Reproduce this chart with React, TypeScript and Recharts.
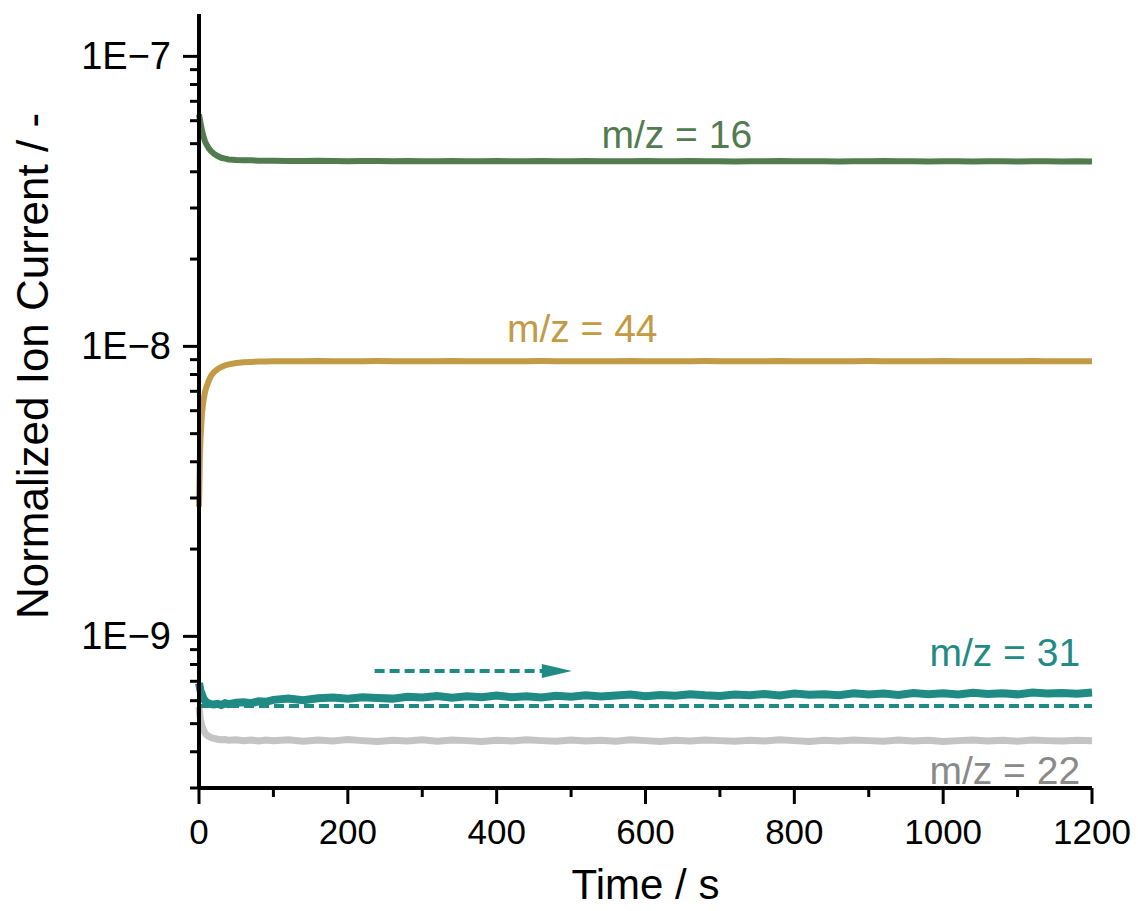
import { Line, LineChart, ReferenceDot, ReferenceLine, XAxis, YAxis, Label } from "recharts";

const FONT = "'Liberation Sans', Arial, sans-serif";
const GREEN = "#527b4f";
const GOLD = "#c39a45";
const TEAL = "#1f8b84";
const GREY_LINE = "#c4c4c4";
const GREY_TEXT = "#8a8a8a";

// time, s
const TIME = [
  0, 1, 2, 4, 6, 8, 10, 13, 16, 20, 25, 30, 35, 40, 50, 60, 70, 80, 90,
  100, 120, 140, 160, 180, 200, 220, 240,
  260, 280, 300, 320, 340, 360, 380, 400,
  420, 440, 460, 480, 500, 520, 540, 560,
  580, 600, 620, 640, 660, 680, 700, 720,
  740, 760, 780, 800, 820, 840, 860, 880,
  900, 920, 940, 960, 980, 1000, 1020, 1040,
  1060, 1080, 1100, 1120, 1140, 1160, 1180, 1200,
];

// m/z = 16, in 1E-8
const MZ16 = [
  6.3, 6.1, 5.9, 5.55, 5.3, 5.1, 4.97, 4.82, 4.72, 4.62, 4.53, 4.47, 4.44, 4.41, 4.39, 4.38, 4.38, 4.37, 4.37,
  4.37, 4.36, 4.36, 4.37, 4.36, 4.35, 4.36, 4.36,
  4.35, 4.36, 4.35, 4.35, 4.36, 4.35, 4.35, 4.36,
  4.35, 4.35, 4.36, 4.35, 4.35, 4.36, 4.35, 4.35,
  4.35, 4.36, 4.35, 4.35, 4.36, 4.35, 4.35, 4.34,
  4.35, 4.35, 4.36, 4.35, 4.35, 4.35, 4.34, 4.35,
  4.35, 4.36, 4.35, 4.35, 4.34, 4.35, 4.35, 4.34,
  4.35, 4.35, 4.34, 4.35, 4.35, 4.34, 4.35, 4.34,
];

// m/z = 44, in 1E-9
const MZ44 = [
  2.8, 4.0, 4.8, 5.9, 6.5, 6.95, 7.25, 7.6, 7.9, 8.15, 8.35, 8.5, 8.6, 8.67, 8.76, 8.81, 8.84, 8.86, 8.87,
  8.88, 8.89, 8.88, 8.9, 8.89, 8.88, 8.89, 8.9,
  8.89, 8.88, 8.89, 8.89, 8.9, 8.88, 8.89, 8.89,
  8.88, 8.89, 8.9, 8.89, 8.88, 8.89, 8.89, 8.88,
  8.9, 8.89, 8.89, 8.88, 8.89, 8.9, 8.89, 8.88,
  8.89, 8.89, 8.9, 8.88, 8.89, 8.89, 8.88, 8.89,
  8.9, 8.89, 8.88, 8.89, 8.89, 8.9, 8.88, 8.89,
  8.89, 8.88, 8.89, 8.9, 8.88, 8.89, 8.89, 8.88,
];

// m/z = 31, in 1E-10
const MZ31 = [
  6.9, 6.7, 6.5, 6.3, 6.1, 6.0, 5.92, 5.87, 5.84, 5.82, 5.85, 5.8, 5.88, 5.84, 5.9, 5.93, 5.88, 5.97, 5.95,
  6.04, 6.1, 6.02, 6.12, 6.15, 6.09, 6.17, 6.13,
  6.1, 6.19, 6.15, 6.23, 6.14, 6.21, 6.17, 6.25,
  6.17, 6.22, 6.15, 6.24, 6.19, 6.27, 6.2, 6.25,
  6.3, 6.22, 6.28, 6.24, 6.31, 6.26, 6.23, 6.3,
  6.27, 6.33, 6.26, 6.35, 6.29, 6.32, 6.27, 6.36,
  6.3, 6.35, 6.28, 6.38, 6.32, 6.36, 6.3, 6.39,
  6.33, 6.37, 6.31, 6.4, 6.35, 6.38, 6.34, 6.4,
];

// m/z = 22, in 1E-10
const MZ22 = [
  5.7, 5.4, 5.15, 4.9, 4.75, 4.65, 4.58, 4.52, 4.48, 4.45, 4.42, 4.4, 4.41, 4.38, 4.4, 4.37, 4.39, 4.36, 4.39,
  4.37, 4.4, 4.35, 4.39, 4.36, 4.41, 4.37, 4.34,
  4.38, 4.36, 4.4, 4.35, 4.39, 4.37, 4.34, 4.38,
  4.36, 4.4, 4.37, 4.35, 4.39, 4.36, 4.38, 4.35,
  4.4, 4.37, 4.34, 4.38, 4.36, 4.39, 4.37, 4.35,
  4.38, 4.36, 4.4, 4.37, 4.34, 4.38, 4.36, 4.39,
  4.37, 4.35, 4.39, 4.36, 4.38, 4.34, 4.37, 4.39,
  4.36, 4.38, 4.35, 4.39, 4.37, 4.36, 4.38, 4.37,
];

// dashed baseline of m/z = 31
const BASELINE_31 = 5.75e-10;

const X_TICKS = [0, 100, 200, 300, 400, 500, 600, 700, 800, 900, 1000, 1100, 1200];
const Y_TICKS = [
  3e-10, 4e-10, 5e-10, 6e-10, 7e-10, 8e-10, 9e-10,
  1e-9, 2e-9, 3e-9, 4e-9, 5e-9, 6e-9, 7e-9, 8e-9, 9e-9,
  1e-8, 2e-8, 3e-8, 4e-8, 5e-8, 6e-8, 7e-8, 8e-8, 9e-8,
  1e-7,
];

const data = TIME.map((t, i) => ({
  t,
  m16: MZ16[i] * 1e-8,
  m44: MZ44[i] * 1e-9,
  m31: MZ31[i] * 1e-10,
  m22: MZ22[i] * 1e-10,
}));

const isDecade = (v: number) => {
  const l = Math.log10(v);
  return Math.abs(l - Math.round(l)) < 1e-6;
};

const XTick = ({ x, y, payload }: any) => {
  const major = payload.value % 200 === 0;
  return (
    <g>
      <line x1={x} x2={x} y1={y} y2={y + (major ? 16 : 9)} stroke="#000" strokeWidth={3} />
      {major && (
        <text x={x} y={y + 56} textAnchor="middle" fontSize={35} fontFamily={FONT} fill="#000">
          {payload.value}
        </text>
      )}
    </g>
  );
};

const YTick = ({ x, y, payload }: any) => {
  const major = isDecade(payload.value);
  return (
    <g>
      <line x1={x - (major ? 16 : 9)} x2={x} y1={y} y2={y} stroke="#000" strokeWidth={3} />
      {major && (
        <text x={x - 28} y={y + 13} textAnchor="end" fontSize={38} fontFamily={FONT} fill="#000">
          {`1E\u2212${-Math.round(Math.log10(payload.value))}`}
        </text>
      )}
    </g>
  );
};

const textDot = (text: string, color: string, anchor: "start" | "middle" | "end") => (p: any) => (
  <text x={p.cx} y={p.cy + 14} textAnchor={anchor} fontSize={39} fontFamily={FONT} fill={color}>
    {text}
  </text>
);

const arrowHead = (p: any) => (
  <polygon points={`${p.cx - 30},${p.cy - 7} ${p.cx},${p.cy} ${p.cx - 30},${p.cy + 7}`} fill={TEAL} />
);

const axisLine = { stroke: "#000", strokeWidth: 4 };

export default function App() {
  return (
    <div style={{ position: "absolute", left: 0, top: 0, width: 1138, height: 911, background: "#fff" }}>
      <LineChart width={1138} height={911} data={data} margin={{ top: 14, right: 46, left: 0, bottom: 0 }}>
        <XAxis
          dataKey="t"
          type="number"
          domain={[0, 1200]}
          ticks={X_TICKS}
          interval={0}
          tick={<XTick />}
          tickLine={false}
          tickSize={0}
          tickMargin={0}
          axisLine={axisLine}
          height={123}
        >
          <Label
            content={(p: any) => (
              <text
                x={p.viewBox.x + p.viewBox.width / 2}
                y={p.viewBox.y + 111}
                textAnchor="middle"
                fontSize={42}
                fontFamily={FONT}
                fill="#000"
              >
                Time / s
              </text>
            )}
          />
        </XAxis>
        <XAxis
          xAxisId="top"
          orientation="top"
          dataKey="t"
          type="number"
          domain={[0, 1200]}
          tick={false}
          tickLine={false}
          axisLine={axisLine}
          height={0}
        />
        <YAxis
          type="number"
          scale="log"
          domain={[3e-10, 1.4e-7]}
          allowDataOverflow
          ticks={Y_TICKS}
          interval={0}
          tick={<YTick />}
          tickLine={false}
          tickSize={0}
          tickMargin={0}
          axisLine={axisLine}
          width={199}
        >
          <Label
            content={(p: any) => {
              const cx = p.viewBox.x + 48;
              const cy = p.viewBox.y + 352;
              return (
                <text
                  x={cx}
                  y={cy}
                  transform={`rotate(-90, ${cx}, ${cy})`}
                  textAnchor="middle"
                  fontSize={44}
                  fontFamily={FONT}
                  fill="#000"
                >
                  Normalized Ion Current / -
                </text>
              );
            }}
          />
        </YAxis>
        <YAxis
          yAxisId="right"
          orientation="right"
          type="number"
          domain={[0, 1]}
          tick={false}
          tickLine={false}
          axisLine={axisLine}
          width={0}
        />
        <Line dataKey="m22" stroke={GREY_LINE} strokeWidth={7} dot={false} isAnimationActive={false} />
        <Line dataKey="m31" stroke={TEAL} strokeWidth={8} dot={false} isAnimationActive={false} />
        <Line dataKey="m44" stroke={GOLD} strokeWidth={6} dot={false} isAnimationActive={false} />
        <Line dataKey="m16" stroke={GREEN} strokeWidth={6} dot={false} isAnimationActive={false} />
        <ReferenceLine y={BASELINE_31} stroke={TEAL} strokeWidth={4} strokeDasharray="10 5" />
        <ReferenceLine
          segment={[
            { x: 236, y: 7.6e-10 },
            { x: 462, y: 7.6e-10 },
          ]}
          stroke={TEAL}
          strokeWidth={4}
          strokeDasharray="10 5"
        />
        <ReferenceDot x={501} y={7.6e-10} r={0} shape={arrowHead} />
        <ReferenceDot x={642} y={5.42e-8} r={0} shape={textDot("m/z = 16", GREEN, "middle")} />
        <ReferenceDot x={515} y={1.16e-8} r={0} shape={textDot("m/z = 44", GOLD, "middle")} />
        <ReferenceDot x={1184} y={8.8e-10} r={0} shape={textDot("m/z = 31", TEAL, "end")} />
        <ReferenceDot x={1184} y={3.45e-10} r={0} shape={textDot("m/z = 22", GREY_TEXT, "end")} />
      </LineChart>
    </div>
  );
}
